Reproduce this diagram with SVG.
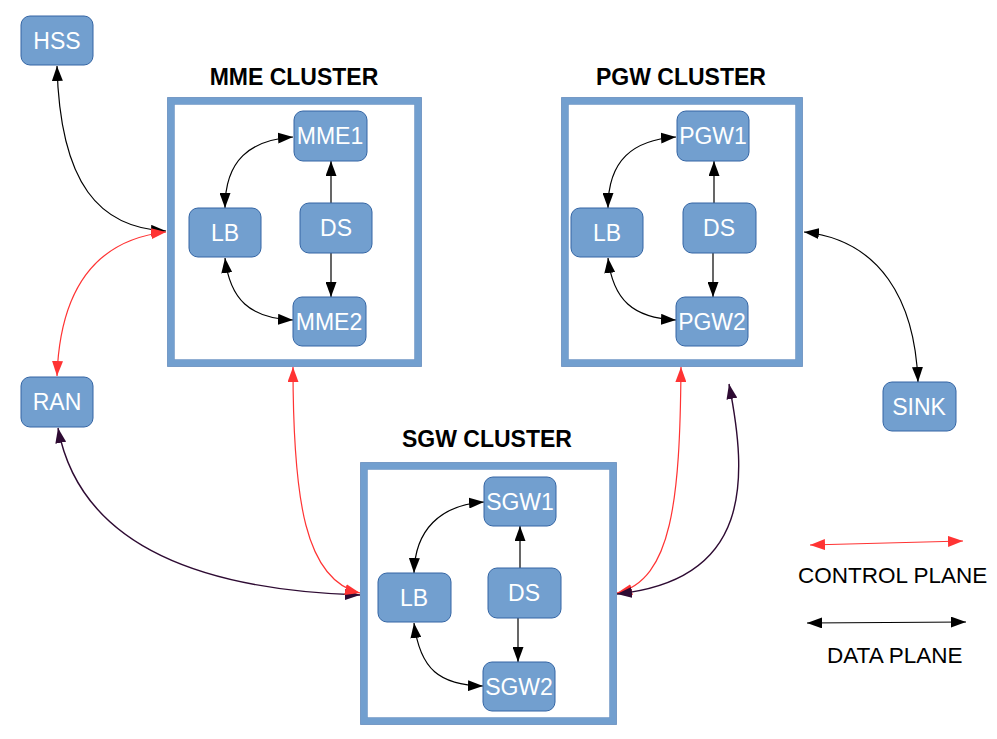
<svg xmlns="http://www.w3.org/2000/svg" width="997" height="739" viewBox="0 0 997 739">
<style>
.node rect{fill:#729fcf;stroke:#3465a4;stroke-width:1}
.node text{fill:#fff;font-family:"Liberation Sans",Arial,sans-serif;font-size:23px;text-anchor:middle}
.band{fill:none;stroke:#729fcf;stroke-width:7}
.edge-o{fill:none;stroke:#3465a4;stroke-width:1;stroke-dasharray:1 1}
.edge-i{fill:none;stroke:#3465a4;stroke-width:1;stroke-dasharray:1 1;stroke-opacity:0.6}
.title{font-family:"Liberation Sans",Arial,sans-serif;font-weight:bold;font-size:23px;text-anchor:middle;fill:#000}
.legend{font-family:"Liberation Sans",Arial,sans-serif;font-size:22.5px;fill:#000}
.d{fill:none;stroke:#000;stroke-width:1.2;marker-start:url(#ab);marker-end:url(#ab)}
.d1{fill:none;stroke:#000;stroke-width:1.2;marker-end:url(#ab)}
.c{fill:none;stroke:#ff3333;stroke-width:1.2;marker-start:url(#ar);marker-end:url(#ar)}
.p{fill:none;stroke:#2e0b33;stroke-width:1.4;marker-start:url(#ap);marker-end:url(#ap)}
</style>
<defs>
<marker id="ab" markerUnits="userSpaceOnUse" markerWidth="15" markerHeight="11" refX="15" refY="5.5" orient="auto-start-reverse"><path d="M0,0 L15,5.5 L0,11 z" fill="#000"/></marker>
<marker id="ar" markerUnits="userSpaceOnUse" markerWidth="15" markerHeight="11" refX="15" refY="5.5" orient="auto-start-reverse"><path d="M0,0 L15,5.5 L0,11 z" fill="#ff3333"/></marker>
<marker id="ap" markerUnits="userSpaceOnUse" markerWidth="15" markerHeight="11" refX="15" refY="5.5" orient="auto-start-reverse"><path d="M0,0 L15,5.5 L0,11 z" fill="#2e0b33"/></marker>
</defs>
<rect width="997" height="739" fill="#fff"/>

<g id="mme-cluster">
<rect class="band" x="171" y="101" width="247" height="262"/>
<rect class="edge-o" x="167.5" y="97.5" width="254" height="269"/>
<rect class="edge-i" x="174.5" y="104.5" width="240" height="255"/>
<text class="title" x="294" y="85">MME CLUSTER</text>
</g>
<g id="pgw-cluster">
<rect class="band" x="565" y="101" width="234" height="262"/>
<rect class="edge-o" x="561.5" y="97.5" width="241" height="269"/>
<rect class="edge-i" x="568.5" y="104.5" width="227" height="255"/>
<text class="title" x="681" y="85">PGW CLUSTER</text>
</g>
<g id="sgw-cluster">
<rect class="band" x="364" y="466" width="249" height="255"/>
<rect class="edge-o" x="360.5" y="462.5" width="256" height="262"/>
<rect class="edge-i" x="367.5" y="469.5" width="242" height="248"/>
<text class="title" x="487" y="447">SGW CLUSTER</text>
</g>

<g id="connectors">
<path class="d" d="M57,66 C60,185 100,228 166,231"/>
<path class="c" d="M166,232 C95,240 60,290 57,376"/>
<path class="p" d="M58,428 C80,545 200,590 360,595"/>
<path class="c" d="M293,367 C293,500 305,580 360,593"/>
<path class="c" d="M681,367 C680,500 672,580 617,593"/>
<path class="p" d="M729,384 C748,480 752,580 617,594"/>
<path class="d" d="M804,232 C880,240 915,300 918,382"/>

<path class="d" d="M293,137 C250,140 225,160 225,208"/>
<path class="d" d="M225,258 C230,300 250,318 293,320"/>
<path class="d1" d="M331,203 L331,161"/>
<path class="d1" d="M331,253 L331,297"/>

<path class="d" d="M676,137 C633,140 608,160 608,208"/>
<path class="d" d="M608,258 C613,300 633,318 676,320"/>
<path class="d1" d="M714,203 L714,161"/>
<path class="d1" d="M713,253 L713,297"/>

<path class="d" d="M484,502 C440,505 415,530 414,573"/>
<path class="d" d="M414,623 C420,670 440,685 483,686"/>
<path class="d1" d="M520,568 L520,526"/>
<path class="d1" d="M518,618 L518,662"/>

<path class="c" d="M810,545 L963,541"/>
<path class="d" d="M807,623 L966,622"/>
</g>

<g id="hss" class="node"><rect x="21" y="16" width="72" height="49" rx="9"/><text x="57" y="49">HSS</text></g>
<g id="ran" class="node"><rect x="21" y="377" width="72" height="50" rx="9"/><text x="57" y="410">RAN</text></g>
<g id="sink" class="node"><rect x="883" y="382" width="73" height="49" rx="9"/><text x="919" y="415">SINK</text></g>

<g id="mme-lb" class="node"><rect x="189" y="208" width="72" height="49" rx="9"/><text x="225" y="241">LB</text></g>
<g id="mme-ds" class="node"><rect x="300" y="203" width="72" height="50" rx="9"/><text x="336" y="236">DS</text></g>
<g id="mme1" class="node"><rect x="294" y="111" width="73" height="50" rx="9"/><text x="330" y="144">MME1</text></g>
<g id="mme2" class="node"><rect x="293" y="297" width="73" height="49" rx="9"/><text x="329" y="330">MME2</text></g>

<g id="pgw-lb" class="node"><rect x="571" y="208" width="72" height="49" rx="9"/><text x="607" y="241">LB</text></g>
<g id="pgw-ds" class="node"><rect x="683" y="203" width="73" height="50" rx="9"/><text x="719" y="236">DS</text></g>
<g id="pgw1" class="node"><rect x="677" y="111" width="72" height="50" rx="9"/><text x="713" y="144">PGW1</text></g>
<g id="pgw2" class="node"><rect x="676" y="297" width="72" height="49" rx="9"/><text x="712" y="330">PGW2</text></g>

<g id="sgw-lb" class="node"><rect x="378" y="573" width="73" height="49" rx="9"/><text x="414" y="606">LB</text></g>
<g id="sgw-ds" class="node"><rect x="488" y="568" width="73" height="50" rx="9"/><text x="524" y="601">DS</text></g>
<g id="sgw1" class="node"><rect x="484" y="477" width="72" height="49" rx="9"/><text x="520" y="510">SGW1</text></g>
<g id="sgw2" class="node"><rect x="483" y="662" width="72" height="49" rx="9"/><text x="519" y="695">SGW2</text></g>

<g id="legend">
<text class="legend" x="798" y="583">CONTROL PLANE</text>
<text class="legend" x="827" y="663">DATA PLANE</text>
</g>
</svg>
